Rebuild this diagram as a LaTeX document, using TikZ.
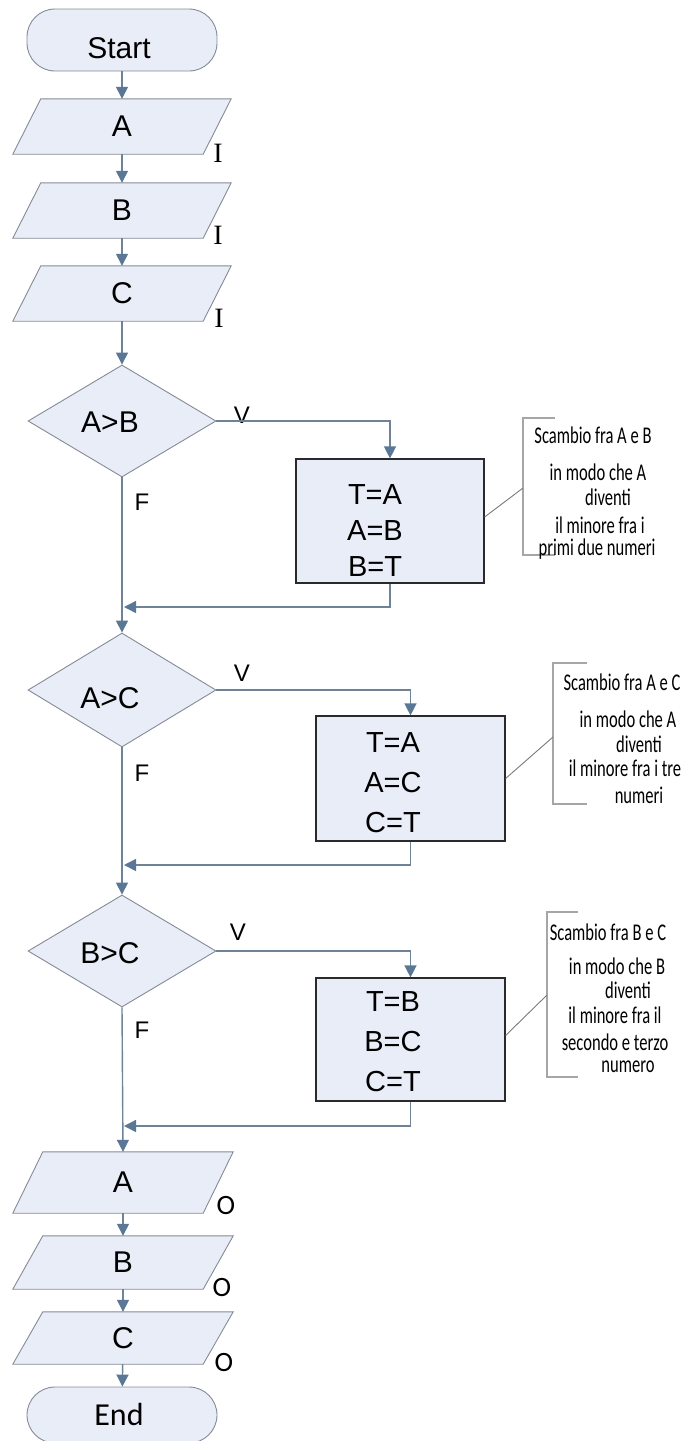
\documentclass[tikz,border=0pt]{standalone}
\usepackage{fontspec}
\setmainfont{Liberation Sans}
\newfontfamily\calfont{Carlito}
\newfontfamily\serffont{Liberation Serif}
\usetikzlibrary{shapes.geometric,arrows.meta,backgrounds,calc}
\definecolor{shapefill}{HTML}{E9EDF7}
\definecolor{shapeline}{HTML}{858B96}
\definecolor{conn}{HTML}{6F8397}
\definecolor{arrowc}{HTML}{5A7896}
\definecolor{boxline}{HTML}{2A2A2A}
\definecolor{brk}{HTML}{A6A6A6}
\definecolor{notec}{HTML}{7A7A7A}
\newcommand{\fbig}{\fontsize{30}{32}\selectfont}
\newcommand{\fdia}{\fontsize{30}{32}\selectfont}
\newcommand{\flab}{\fontsize{24}{26}\selectfont}
\newcommand{\fnote}{\calfont\fontsize{24}{26}\selectfont}
\newcommand{\drawpara}[2]{\path[parashape] ($(#1.north west)+(#2,0)$) -- (#1.north east) -- ($(#1.south east)-(#2,0)$) -- (#1.south west) -- cycle;}
\begin{document}
\begin{tikzpicture}[x=1pt,y=-1pt,
  term/.style={draw=shapeline,fill=shapefill,rounded corners=28pt,minimum width=190pt,inner sep=0pt,line width=0.9pt},
  para/.style={minimum width=218pt,inner sep=0pt,font=\fbig},
  parashape/.style={draw=shapeline,fill=shapefill,line width=0.9pt},
  dec/.style={shape=diamond,draw=shapeline,fill=shapefill,minimum width=188pt,inner sep=0pt,line width=0.9pt},
  proc/.style={draw=boxline,fill=shapefill,line width=1.2pt,inner sep=0pt},
  proctext/.style={align=center,inner sep=0pt},
  arr/.style={draw=conn,line width=1.4pt,-{Triangle[length=12pt,width=12pt,color=arrowc]}},
  lbl/.style={font=\flab,inner sep=0pt},
  io/.style={inner sep=0pt},
  notetext/.style={font=\fnote,xscale=0.69,inner sep=0pt},
  bracket/.style={draw=brk,line width=1.3pt},
  noteline/.style={draw=notec,line width=0.9pt}
]
\useasboundingbox (0,0) rectangle (685,1441);

% terminators
\node[term,minimum height=62pt,label={[yshift=-8pt,xshift=-3pt,inner sep=0pt]center:{\fbig Start}}] (start) at (122,40) {};
\node[term,minimum height=56pt,label={[yshift=1pt,xshift=-3pt,inner sep=0pt]center:{\calfont\fontsize{32}{34}\selectfont End}}] (endn) at (122,1415) {};

% input parallelograms
\node[para,minimum height=55pt] (inA) at (122,126.5) {A};
\node[para,minimum height=55pt] (inB) at (122,210.5) {B};
\node[para,minimum height=55pt] (inC) at (122,293.5) {C};
% output parallelograms
\node[para,minimum height=61pt,minimum width=220pt] (outA) at (123,1182.5) {A};
\node[para,minimum height=53pt,minimum width=220pt] (outB) at (123,1262.5) {B};
\node[para,minimum height=52pt,minimum width=220pt] (outC) at (123,1338) {C};
\begin{scope}[on background layer]
\drawpara{inA}{28}
\drawpara{inB}{28}
\drawpara{inC}{28}
\drawpara{outA}{30}
\drawpara{outB}{30}
\drawpara{outC}{30}
\end{scope}

% I / O labels
\node[io,font=\serffont\fontsize{28}{29}\selectfont] (iA) at (218,153) {I};
\node[io,font=\serffont\fontsize{28}{29}\selectfont] (iB) at (218,235) {I};
\node[io,font=\serffont\fontsize{28}{29}\selectfont] (iC) at (219,318) {I};
\node[io,font=\calfont\fontsize{28}{29}\selectfont] (oA) at (226,1205) {O};
\node[io,font=\calfont\fontsize{28}{29}\selectfont] (oB) at (222,1287) {O};
\node[io,font=\calfont\fontsize{28}{29}\selectfont] (oC) at (224,1362) {O};

% decisions
\node[dec,minimum height=112pt,label={[xshift=-12pt,yshift=-1pt,inner sep=0pt]center:{\fdia A>B}}] (d1) at (122,421) {};
\node[dec,minimum height=114pt,label={[xshift=-12pt,yshift=-8pt,inner sep=0pt]center:{\fdia A>C}}] (d2) at (122,690) {};
\node[dec,minimum height=112pt,label={[xshift=-12pt,yshift=-2pt,inner sep=0pt]center:{\fdia B>C}}] (d3) at (122,951) {};

% processes
\node[proc,minimum width=188pt,minimum height=124pt] (p1) at (390,521) {};
\node[proc,minimum width=189pt,minimum height=125pt] (p2) at (410.5,778.5) {};
\node[proc,minimum width=189pt,minimum height=123pt] (p3) at (410.5,1039.5) {};
\node[proctext,font=\fontsize{29}{36}\selectfont] (p1t) at (375,531) {T=A\\A=B\\B=T};
\node[proctext,font=\fontsize{29}{40}\selectfont] (p2t) at (393,783) {T=A\\A=C\\C=T};
\node[proctext,font=\fontsize{29}{40}\selectfont] (p3t) at (393,1042) {T=B\\B=C\\C=T};

% V / F labels
\node[lbl] (v1) at (242,415) {V};
\node[lbl] (v2) at (242,673) {V};
\node[lbl] (v3) at (238,932) {V};
\node[lbl] (f1) at (142,502) {F};
\node[lbl] (f2) at (142,773) {F};
\node[lbl] (f3) at (142,1030) {F};

% connectors
\draw[arr] (start) -- (inA);
\draw[arr] (inA) -- (inB);
\draw[arr] (inB) -- (inC);
\draw[arr] (inC) -- (d1);
\draw[arr] (d1.east) -| (p1.north);
\coordinate (m1) at (124,607);
\draw[arr] (p1.south) |- (m1);
\draw[arr] (d1.south) -- (d2.north);
\draw[arr] (d2.east) -| (p2.north);
\coordinate (m2) at (124,865);
\draw[arr] (p2.south) |- (m2);
\draw[arr] (d2.south) -- (d3.north);
\draw[arr] (d3.east) -| (p3.north);
\coordinate (m3) at (124,1126);
\draw[arr] (p3.south) |- (m3);
\draw[arr] (d3.south) -- (outA.north);
\draw[arr] (outA) -- (outB);
\draw[arr] (outB) -- (outC);
\draw[arr] (outC) -- (endn);

% annotation 1
\draw[bracket] (555,418) -- (523,418) -- (523,555) -- (555,555);
\coordinate (b1) at (523,488);
\draw[noteline] ([yshift=4pt]p1.east) -- (b1);
\node[notetext] (n1a) at (593,435) {Scambio fra A e B};
\node[notetext] (n1b) at (598,472) {in modo che A};
\node[notetext] (n1c) at (608,497) {diventi};
\node[notetext] (n1d) at (600,525) {il minore fra i};
\node[notetext] (n1e) at (597,549) {primi due numeri};

% annotation 2
\draw[bracket] (587,663) -- (553,663) -- (553,804) -- (587,804);
\coordinate (b2) at (553,737);
\draw[noteline] (p2.east) -- (b2);
\node[notetext] (n2a) at (622,682) {Scambio fra A e C};
\node[notetext] (n2b) at (628,719) {in modo che A};
\node[notetext] (n2c) at (639,744) {diventi};
\node[notetext] (n2d) at (625,768) {il minore fra i tre};
\node[notetext] (n2e) at (639,795) {numeri};

% annotation 3
\draw[bracket] (578,912) -- (547,912) -- (547,1077) -- (578,1077);
\coordinate (b3) at (547,995);
\draw[noteline] ([yshift=4pt]p3.east) -- (b3);
\node[notetext] (n3a) at (608,932) {Scambio fra B e C};
\node[notetext] (n3b) at (617,966) {in modo che B};
\node[notetext] (n3c) at (628,990) {diventi};
\node[notetext] (n3d) at (615,1015) {il minore fra il};
\node[notetext] (n3e) at (615,1042) {secondo e terzo};
\node[notetext] (n3f) at (628,1067) {numero};
\end{tikzpicture}
\end{document}
